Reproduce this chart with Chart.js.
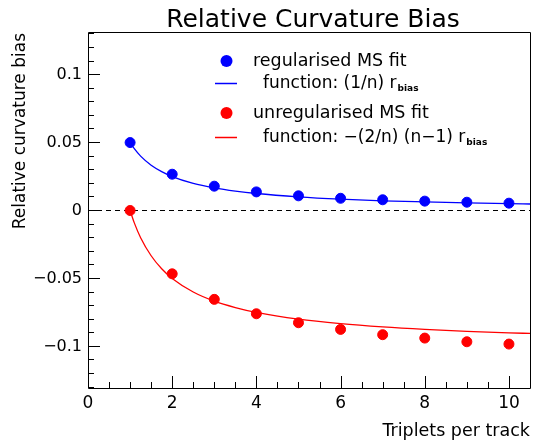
<!DOCTYPE html>
<html>
<head>
<meta charset="utf-8">
<title>Relative Curvature Bias</title>
<script src="https://cdn.jsdelivr.net/npm/chart.js@4.4.1/dist/chart.umd.min.js"></script>
<style>
    html, body { margin: 0; padding: 0; background: #fff; }
    #wrap { width: 536px; height: 443px; }
</style>
</head>
<body>
<div id="wrap"><canvas id="biasChart" width="536" height="443"></canvas></div>
<script>
// measured points (triplets per track n)
const nValues = [1, 2, 3, 4, 5, 6, 7, 8, 9, 10];
const regularisedBias = [0.0500, 0.0267, 0.0179, 0.0137, 0.0108, 0.0090, 0.0079, 0.0069, 0.0061, 0.0054];
const unregularisedBias = [0.0000, -0.0466, -0.0654, -0.0760, -0.0826, -0.0875, -0.0914, -0.0939, -0.0966, -0.0983];

// fitted curves
const curveN = [1, 1.1, 1.25, 1.5, 1.75, 2, 2.5, 3, 3.5, 4, 5, 6, 7, 8, 9, 10, 10.5];
const regularisedCurve = [0.05, 0.0455, 0.04, 0.0333, 0.0286, 0.025, 0.02, 0.0167, 0.0143, 0.0125, 0.01, 0.0083, 0.0071, 0.0063, 0.0056, 0.005, 0.0048];
const unregularisedCurve = [0, -0.0091, -0.02, -0.0333, -0.0429, -0.05, -0.06, -0.0667, -0.0714, -0.075, -0.08, -0.0833, -0.0857, -0.0875, -0.0889, -0.09, -0.0905];

// dashed zero line
const zeroLineX = [0, 10.5];
const zeroLineY = [0, 0];

const xTickValues = [0, 2, 4, 6, 8, 10];
const yTickValues = [-0.1, -0.05, 0, 0.05, 0.1];
const yTickLabels = ['\u22120.1', '\u22120.05', '0', '0.05', '0.1'];

const FONT = '"DejaVu Sans", "Liberation Sans", sans-serif';

function toPoints(xs, ys) {
    return xs.map((x, i) => ({ x: x, y: ys[i] }));
}

// ROOT style frame with inward ticks, titles
const rootFrame = {
    id: 'rootFrame',
    afterDraw(chart) {
        const ctx = chart.ctx;
        const a = chart.chartArea;
        const xs = chart.scales.x;
        const ys = chart.scales.y;
        ctx.save();
        ctx.strokeStyle = '#000';
        ctx.lineWidth = 1;
        ctx.beginPath();
        ctx.rect(Math.round(a.left) + 0.5, Math.round(a.top) + 0.5, Math.round(a.right - a.left), Math.round(a.bottom - a.top));
        ctx.stroke();

        ctx.beginPath();
        for (let i = -13; i <= 13; i++) {
            const py = Math.floor(ys.getPixelForValue(i / 100)) + 0.5;
            const len = (i % 5 === 0) ? 12 : 6;
            ctx.moveTo(a.left, py);
            ctx.lineTo(a.left + len, py);
        }
        for (let i = 0; i <= 21; i++) {
            const px = Math.round(xs.getPixelForValue(i / 2)) + 0.5;
            const len = (i % 4 === 0) ? 12 : 6;
            ctx.moveTo(px, a.bottom);
            ctx.lineTo(px, a.bottom - len);
        }
        ctx.stroke();

        ctx.fillStyle = '#000';
        ctx.font = '25px ' + FONT;
        ctx.textAlign = 'center';
        ctx.textBaseline = 'alphabetic';
        ctx.fillText('Relative Curvature Bias', 313, 27);

        ctx.font = '17.5px ' + FONT;
        ctx.textAlign = 'right';
        ctx.textBaseline = 'middle';
        ctx.fillText('Triplets per track', a.right, 431);

        ctx.translate(21, a.top + 1);
        ctx.rotate(-Math.PI / 2);
        ctx.font = '17px ' + FONT;
        ctx.textAlign = 'right';
        ctx.fillText('Relative curvature bias', 0, 0);
        ctx.restore();
    }
};

function drawRBias(ctx, text, x, y) {
    ctx.font = '17px ' + FONT;
    ctx.textAlign = 'left';
    ctx.textBaseline = 'middle';
    ctx.fillText(text, x, y);
    const w = ctx.measureText(text).width;
    ctx.font = 'bold 9px ' + FONT;
    ctx.fillText('bias', x + w + 1, y + 5);
}

const rootLegend = {
    id: 'rootLegend',
    afterDraw(chart) {
        const ctx = chart.ctx;
        ctx.save();
        ctx.fillStyle = '#0000ff';
        ctx.beginPath();
        ctx.arc(226.5, 61, 6, 0, Math.PI * 2);
        ctx.fill();
        ctx.fillStyle = '#ff0000';
        ctx.beginPath();
        ctx.arc(226.5, 113, 6, 0, Math.PI * 2);
        ctx.fill();

        ctx.lineWidth = 1.5;
        ctx.strokeStyle = '#0000ff';
        ctx.beginPath();
        ctx.moveTo(215, 83.5);
        ctx.lineTo(237, 83.5);
        ctx.stroke();
        ctx.strokeStyle = '#ff0000';
        ctx.beginPath();
        ctx.moveTo(215, 137.5);
        ctx.lineTo(237, 137.5);
        ctx.stroke();

        ctx.fillStyle = '#000';
        ctx.font = '17.5px ' + FONT;
        ctx.textAlign = 'left';
        ctx.textBaseline = 'middle';
        ctx.fillText('regularised MS fit', 253, 61);
        ctx.fillText('unregularised MS fit', 253, 113);
        drawRBias(ctx, 'function: (1/n) r', 263, 84);
        drawRBias(ctx, 'function: \u2212(2/n) (n\u22121) r', 263, 138);
        ctx.restore();
    }
};

const config = {
    type: 'scatter',
    data: {
        datasets: [
            {
                label: 'zero',
                data: toPoints(zeroLineX, zeroLineY),
                showLine: true,
                borderColor: '#000',
                borderWidth: 1,
                borderDash: [5, 4],
                pointRadius: 0,
                order: 5
            },
            {
                label: 'function: (1/n) r_bias',
                data: toPoints(curveN, regularisedCurve),
                showLine: true,
                borderColor: '#0000ff',
                borderWidth: 1.3,
                pointRadius: 0,
                cubicInterpolationMode: 'monotone',
                order: 4
            },
            {
                label: 'function: -(2/n)(n-1) r_bias',
                data: toPoints(curveN, unregularisedCurve),
                showLine: true,
                borderColor: '#ff0000',
                borderWidth: 1.3,
                pointRadius: 0,
                cubicInterpolationMode: 'monotone',
                order: 3
            },
            {
                label: 'regularised MS fit',
                data: toPoints(nValues, regularisedBias),
                backgroundColor: '#0000ff',
                borderColor: '#0000ff',
                pointRadius: 5,
                order: 2
            },
            {
                label: 'unregularised MS fit',
                data: toPoints(nValues, unregularisedBias),
                backgroundColor: '#ff0000',
                borderColor: '#ff0000',
                pointRadius: 5,
                order: 1
            }
        ]
    },
    options: {
        responsive: false,
        animation: false,
        devicePixelRatio: 1,
        layout: { padding: { top: 32, right: 3, left: 0, bottom: 0 } },
        plugins: {
            legend: { display: false },
            tooltip: { enabled: false },
            title: { display: false }
        },
        scales: {
            x: {
                type: 'linear',
                min: 0,
                max: 10.5,
                afterFit: s => { s.height = 55; },
                afterBuildTicks: s => { s.ticks = xTickValues.map(v => ({ value: v })); },
                ticks: {
                    color: '#000',
                    font: { family: FONT, size: 17 },
                    padding: 5,
                    maxRotation: 0,
                    autoSkip: false
                },
                grid: { display: false, drawTicks: false },
                border: { display: false }
            },
            y: {
                type: 'linear',
                min: -0.13063,
                max: 0.13137,
                afterFit: s => { s.width = 88; },
                afterBuildTicks: s => { s.ticks = yTickValues.map(v => ({ value: v })); },
                ticks: {
                    color: '#000',
                    font: { family: FONT, size: 16 },
                    padding: 6,
                    autoSkip: false,
                    callback: (v, i) => yTickLabels[i]
                },
                grid: { display: false, drawTicks: false },
                border: { display: false }
            }
        }
    },
    plugins: [rootFrame, rootLegend]
};

new Chart(document.getElementById('biasChart'), config);
</script>
</body>
</html>
